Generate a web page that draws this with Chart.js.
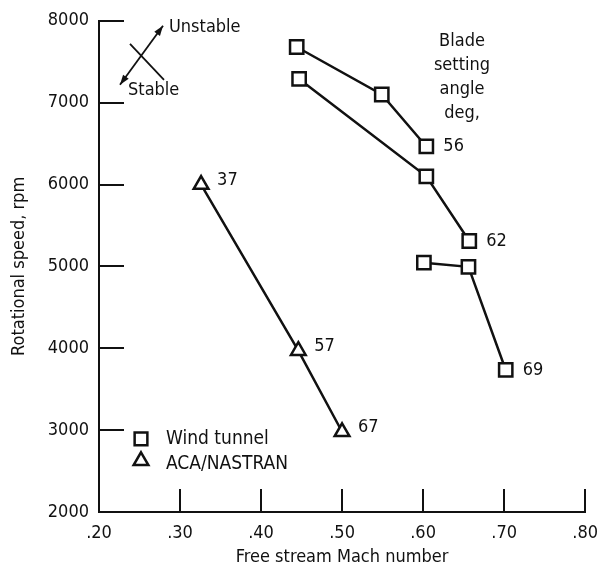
<!DOCTYPE html>
<html>
<head>
<meta charset="utf-8">
<script src="https://cdn.jsdelivr.net/npm/chart.js@4/dist/chart.umd.min.js"></script>
<style>
  html, body { margin: 0; padding: 0; background: #fff; }
  #wrap { width: 609px; height: 571px; }
</style>
</head>
<body>
<div id="wrap"><canvas id="c" width="609" height="571"></canvas></div>
<script>
// ---- data ----
const seriesNames = ['Wind tunnel', 'ACA/NASTRAN'];
// Wind tunnel, one line per blade setting angle
const wt56Mach = [0.444, 0.549, 0.604];
const wt56Rpm  = [7680, 7100, 6465];
const wt62Mach = [0.447, 0.604, 0.657];
const wt62Rpm  = [7290, 6100, 5310];
const wt69Mach = [0.601, 0.656, 0.702];
const wt69Rpm  = [5045, 4995, 3735];
const windTunnelAngles = ['56', '62', '69'];
// ACA/NASTRAN
const acaMach = [0.326, 0.446, 0.500];
const acaRpm  = [6000, 3970, 2980];
const acaAngles = ['37', '57', '67'];
// axes
const xTickLabels = ['.20', '.30', '.40', '.50', '.60', '.70', '.80'];
const yTickLabels = ['2000', '3000', '4000', '5000', '6000', '7000', '8000'];
const xTitle = 'Free stream Mach number';
const yTitle = 'Rotational speed, rpm';
const bladeNoteLines = ['Blade', 'setting', 'angle', 'deg,'];
const stabilityLabels = ['Unstable', 'Stable'];

const INK = '#111';
const FONT = '"DejaVu Sans Condensed", "DejaVu Sans", sans-serif';
const FS = 18;

function pts(xs, ys) { return xs.map((x, i) => ({ x: x, y: ys[i] })); }

function lineDs(label, data, style, radius) {
  return {
    label: label,
    data: data,
    showLine: true,
    borderColor: INK,
    borderWidth: 2.5,
    pointStyle: style,
    pointRadius: radius,
    pointHoverRadius: radius,
    pointBorderColor: INK,
    pointBorderWidth: 2.5,
    pointBackgroundColor: '#fff',
    tension: 0
  };
}

const datasets = [
  Object.assign(lineDs(seriesNames[0], pts(wt56Mach, wt56Rpm), 'rect', 9.4), { angle: windTunnelAngles[0], angleIdx: 2 }),
  Object.assign(lineDs(seriesNames[0], pts(wt62Mach, wt62Rpm), 'rect', 9.4), { angle: windTunnelAngles[1], angleIdx: 2 }),
  Object.assign(lineDs(seriesNames[0], pts(wt69Mach, wt69Rpm), 'rect', 9.4), { angle: windTunnelAngles[2], angleIdx: 2 }),
  Object.assign(lineDs(seriesNames[1], pts(acaMach, acaRpm), 'triangle', 8.5), { angles: acaAngles })
];

function arrowHead(ctx, x1, y1, x2, y2, len, wid) {
  const a = Math.atan2(y2 - y1, x2 - x1);
  ctx.beginPath();
  ctx.moveTo(x2, y2);
  ctx.lineTo(x2 - len * Math.cos(a) + wid * Math.sin(a), y2 - len * Math.sin(a) - wid * Math.cos(a));
  ctx.lineTo(x2 - len * Math.cos(a) - wid * Math.sin(a), y2 - len * Math.sin(a) + wid * Math.cos(a));
  ctx.closePath();
  ctx.fill();
}

const decorPlugin = {
  id: 'decor',
  afterDatasetsDraw(chart) {
    const ctx = chart.ctx;
    const xs = chart.scales.x, ys = chart.scales.y;
    const ca = chart.chartArea;
    ctx.save();
    ctx.strokeStyle = INK;
    ctx.fillStyle = INK;
    ctx.lineWidth = 2;
    // inward tick marks
    xs.ticks.forEach((t, i) => {
      if (i === 0) return;
      const px = Math.round(xs.getPixelForValue(t.value));
      ctx.beginPath(); ctx.moveTo(px, ca.bottom); ctx.lineTo(px, ca.bottom - 23); ctx.stroke();
    });
    ys.ticks.forEach((t, i) => {
      if (i === 0) return;
      const py = Math.round(ys.getPixelForValue(t.value));
      ctx.beginPath(); ctx.moveTo(ca.left, py); ctx.lineTo(ca.left + 25, py); ctx.stroke();
    });

    ctx.font = FS + 'px ' + FONT;
    ctx.textBaseline = 'middle';
    ctx.textAlign = 'left';
    // angle labels next to points
    chart.data.datasets.forEach((ds, di) => {
      const meta = chart.getDatasetMeta(di);
      if (ds.angles) {
        ds.angles.forEach((a, i) => {
          const el = meta.data[i];
          ctx.fillText(a, el.x + 16, el.y - 4);
        });
      } else if (ds.angle) {
        const el = meta.data[ds.angleIdx];
        ctx.fillText(ds.angle, el.x + 17, el.y);
      }
    });

    // "Blade setting angle deg," note
    ctx.textAlign = 'center';
    bladeNoteLines.forEach((s, i) => {
      ctx.fillText(s, ca.left + 363, ca.top + 21 + i * 24);
    });

    // stability arrows
    const ax1 = ca.left + 21, ay1 = ca.top + 64, ax2 = ca.left + 64, ay2 = ca.top + 5;
    ctx.lineWidth = 1.8;
    ctx.beginPath(); ctx.moveTo(ax1, ay1); ctx.lineTo(ax2, ay2); ctx.stroke();
    arrowHead(ctx, ax1, ay1, ax2, ay2, 10, 3.5);
    arrowHead(ctx, ax2, ay2, ax1, ay1, 10, 3.5);
    ctx.beginPath(); ctx.moveTo(ca.left + 31, ca.top + 23); ctx.lineTo(ca.left + 65, ca.top + 59); ctx.stroke();
    ctx.textAlign = 'left';
    ctx.fillText(stabilityLabels[0], ca.left + 70, ca.top + 7);
    ctx.fillText(stabilityLabels[1], ca.left + 29, ca.top + 70);

    // legend
    const lx = ca.left + 42, ly1 = ca.top + 418, ly2 = ca.top + 440;
    ctx.lineWidth = 2.5;
    ctx.fillStyle = '#fff';
    Chart.helpers.drawPoint(ctx, { pointStyle: 'rect', radius: 9, borderWidth: 2.5 }, lx, ly1);
    Chart.helpers.drawPoint(ctx, { pointStyle: 'triangle', radius: 8.5, borderWidth: 2.5 }, lx, ly2);
    ctx.fillStyle = INK;
    ctx.font = '19px ' + FONT;
    ctx.fillText(seriesNames[0], ca.left + 67, ly1);
    ctx.fillText(seriesNames[1], ca.left + 67, ly2 + 3);
    ctx.restore();
  }
};

new Chart(document.getElementById('c'), {
  type: 'scatter',
  data: { datasets: datasets },
  options: {
    responsive: false,
    animation: false,
    devicePixelRatio: 1,
    layout: { padding: { top: 19, right: 16, left: 0, bottom: 0 } },
    plugins: { legend: { display: false }, tooltip: { enabled: false } },
    scales: {
      x: {
        type: 'linear', min: 0.2, max: 0.8,
        afterFit(s) { s.height = 59; },
        grid: { display: false, drawTicks: false },
        border: { display: true, color: INK, width: 2 },
        ticks: {
          stepSize: 0.1, padding: 11, color: INK, maxRotation: 0, autoSkip: false,
          font: { family: FONT, size: FS },
          callback: (v, i) => xTickLabels[i]
        },
        title: { display: true, text: xTitle, color: INK, font: { family: FONT, size: FS }, padding: { top: 0, bottom: 3 } }
      },
      y: {
        type: 'linear', min: 2000, max: 8000,
        afterFit(s) { s.width = 99; },
        grid: { display: false, drawTicks: false },
        border: { display: true, color: INK, width: 2 },
        ticks: {
          stepSize: 1000, padding: 10, color: INK, autoSkip: false,
          font: { family: FONT, size: FS },
          callback: (v, i) => yTickLabels[i]
        },
        title: { display: true, text: yTitle, color: INK, font: { family: FONT, size: FS }, padding: { top: 9, bottom: 0 } }
      }
    }
  },
  plugins: [decorPlugin]
});
</script>
</body>
</html>
